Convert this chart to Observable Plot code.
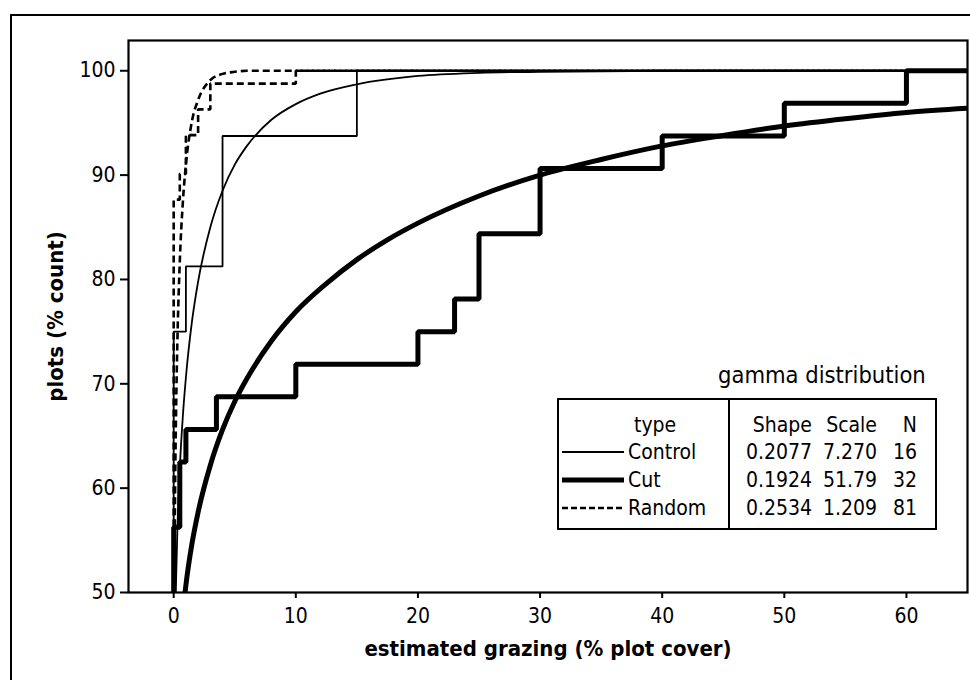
<!DOCTYPE html>
<html>
<head>
<meta charset="utf-8">
<script src="https://cdn.jsdelivr.net/npm/d3@7"></script>
<script src="https://cdn.jsdelivr.net/npm/@observablehq/plot@0.6"></script>
<style>
html, body { margin: 0; padding: 0; background: #fff; overflow: hidden; }
#wrap { position: relative; width: 970px; height: 680px; font-family: "DejaVu Sans Condensed", "DejaVu Sans", sans-serif; color: #000; }
#outer { position: absolute; left: 10px; top: 14px; width: 990px; height: 720px; border-left: 2px solid #000; border-top: 2px solid #000; pointer-events: none; z-index: 3; }
#chart { position: absolute; left: 0; top: 0; }
#gtitle { position: absolute; left: 718px; top: 361px; font-size: 23.5px; white-space: nowrap; z-index: 2; }
#legend { position: absolute; left: 557px; top: 398px; width: 376px; height: 128px; border: 2px solid #000; background: #fff; z-index: 2; font-size: 21px; }
#legend .cell { position: absolute; white-space: nowrap; line-height: 24px; }
#legend .div { position: absolute; left: 169px; top: 0; width: 2px; height: 128px; background: #000; }
#legend svg { position: absolute; }
</style>
</head>
<body>
<div id="wrap">
  <div id="chart"></div>
  <div id="outer"></div>
  <div id="gtitle">gamma distribution</div>
  <div id="legend"></div>
</div>
<script>
// ---- axes ----
const xDomain = [-3.7, 65];
const yDomain = [50, 102.9];
const xTicks = [0, 10, 20, 30, 40, 50, 60];
const yTicks = [50, 60, 70, 80, 90, 100];
const xLabel = "estimated grazing (% plot cover)";
const yLabel = "plots (% count)";

// ---- empirical cumulative distributions (step lines) ----
const controlGrazing = [0, 1, 4, 15];
const controlCumPct  = [75, 81.25, 93.75, 100];
const cutGrazing = [0, 0.5, 1, 3.5, 10, 20, 23, 25, 30, 40, 50, 60];
const cutCumPct  = [56.25, 62.5, 65.625, 68.75, 71.875, 75, 78.125, 84.375, 90.625, 93.75, 96.875, 100];
const randomGrazing = [0, 0.5, 1, 2, 3, 10];
const randomCumPct  = [87.65, 90.12, 93.83, 96.30, 98.77, 100];

// ---- fitted gamma curves ----
const controlFitX = [0.17, 0.3, 0.5, 0.75, 1, 1.5, 2, 3, 4, 5, 6, 8, 10, 12, 15, 20, 25, 30, 40, 65];
const controlFitY = [50, 55.9, 61.9, 66.9, 70.6, 76.0, 79.8, 85.0, 88.5, 91.0, 92.8, 95.3, 96.8, 97.8, 98.7, 99.5, 99.8, 99.9, 100, 100];
const cutFitX = [0.93, 1, 1.5, 2, 3, 4, 5, 6, 8, 10, 12.5, 15, 17.5, 20, 25, 30, 35, 40, 45, 50, 55, 60, 65];
const cutFitY = [50, 50.7, 54.7, 57.7, 62.2, 65.6, 68.3, 70.5, 74.1, 76.9, 79.6, 81.9, 83.8, 85.4, 88.0, 90.0, 91.5, 92.8, 93.8, 94.7, 95.4, 96.0, 96.4];
const randomFitX = [0.055, 0.1, 0.2, 0.3, 0.5, 0.75, 1, 1.5, 2, 3, 4, 5, 6, 8, 10, 65];
const randomFitY = [50, 57.8, 67.7, 73.9, 81.7, 87.4, 91.0, 95.2, 97.2, 99.1, 99.7, 99.9, 100, 100, 100, 100];

// ---- legend table ----
const types  = ["Control", "Cut", "Random"];
const shapes = ["0.2077", "0.1924", "0.2534"];
const scales = ["7.270", "51.79", "1.209"];
const counts = ["16", "32", "81"];
const headers = ["type", "Shape", "Scale", "N"];

const styles = {
  Control: {strokeWidth: 1.8, strokeDasharray: null},
  Cut:     {strokeWidth: 5,   strokeDasharray: null},
  Random:  {strokeWidth: 2.6, strokeDasharray: "7,4"}
};

function stepData(xs, ys) {
  const d = [{x: xs[0], y: yDomain[0]}];
  xs.forEach((x, i) => d.push({x, y: ys[i]}));
  d.push({x: xDomain[1], y: ys[ys.length - 1]});
  return d;
}
function fitData(xs, ys) { return xs.map((x, i) => ({x, y: ys[i]})); }

const series = [
  {type: "Control", step: stepData(controlGrazing, controlCumPct), fit: fitData(controlFitX, controlFitY)},
  {type: "Cut",     step: stepData(cutGrazing, cutCumPct),         fit: fitData(cutFitX, cutFitY)},
  {type: "Random",  step: stepData(randomGrazing, randomCumPct),   fit: fitData(randomFitX, randomFitY)}
];

const marks = [];
for (const s of series) {
  const st = styles[s.type];
  const common = {x: "x", y: "y", stroke: "black", strokeWidth: st.strokeWidth, clip: true, strokeLinejoin: "miter", strokeLinecap: "butt"};
  if (st.strokeDasharray) common.strokeDasharray = st.strokeDasharray;
  marks.push(Plot.line(s.step, {...common, curve: "step-after"}));
  marks.push(Plot.line(s.fit, {...common, curve: "monotone-x"}));
}

const chart = Plot.plot({
  width: 970,
  height: 680,
  marginLeft: 128,
  marginRight: 3,
  marginTop: 40,
  marginBottom: 88,
  style: {fontFamily: '"DejaVu Sans Condensed", "DejaVu Sans", sans-serif', fontSize: "21px", background: "transparent", color: "black"},
  x: {domain: xDomain},
  y: {domain: yDomain},
  marks: [
    ...marks,
    Plot.frame({stroke: "black", strokeWidth: 2.2}),
    Plot.axisX({ticks: xTicks, tickSize: 6, tickPadding: 10, tickFormat: d => String(d), strokeWidth: 2, fontSize: 21,
      label: xLabel, labelAnchor: "center", labelOffset: 63, labelArrow: "none"}),
    Plot.axisY({ticks: yTicks, tickSize: 8, tickPadding: 5, tickFormat: d => String(d), strokeWidth: 2, fontSize: 21,
      label: yLabel, labelAnchor: "center", labelOffset: 81, labelArrow: "none"})
  ]
});
chart.querySelectorAll('[aria-label="x-axis label"], [aria-label="y-axis label"]').forEach(g => {
  g.setAttribute("font-weight", "bold");
  g.setAttribute("font-size", "22");
});
document.getElementById("chart").appendChild(chart);

// ---- legend ----
const lg = document.getElementById("legend");
const rowY = [25, 52, 80, 108];      // row centres inside the box
function cell(text, left, y, align) {
  const el = document.createElement("div");
  el.className = "cell";
  el.textContent = text;
  el.style.top = (y - 12) + "px";
  if (align === "right") el.style.right = (376 - left) + "px"; else el.style.left = left + "px";
  lg.appendChild(el);
}
const dv = document.createElement("div"); dv.className = "div"; lg.appendChild(dv);
cell(headers[0], 75, rowY[0], "left");
cell(headers[1], 253, rowY[0], "right");
cell(headers[2], 318, rowY[0], "right");
cell(headers[3], 358, rowY[0], "right");
types.forEach((t, i) => {
  const y = rowY[i + 1];
  const st = styles[t];
  const svgNS = "http://www.w3.org/2000/svg";
  const sv = document.createElementNS(svgNS, "svg");
  sv.setAttribute("width", 66); sv.setAttribute("height", 10);
  sv.style.left = "1px"; sv.style.top = (y - 5) + "px";
  const ln = document.createElementNS(svgNS, "line");
  ln.setAttribute("x1", 2); ln.setAttribute("x2", 64); ln.setAttribute("y1", 5); ln.setAttribute("y2", 5);
  ln.setAttribute("stroke", "black"); ln.setAttribute("stroke-width", st.strokeWidth);
  if (st.strokeDasharray) ln.setAttribute("stroke-dasharray", "6,3");
  sv.appendChild(ln); lg.appendChild(sv);
  cell(t, 69, y, "left");
  cell(shapes[i], 253, y, "right");
  cell(scales[i], 318, y, "right");
  cell(counts[i], 358, y, "right");
});
</script>
</body>
</html>
